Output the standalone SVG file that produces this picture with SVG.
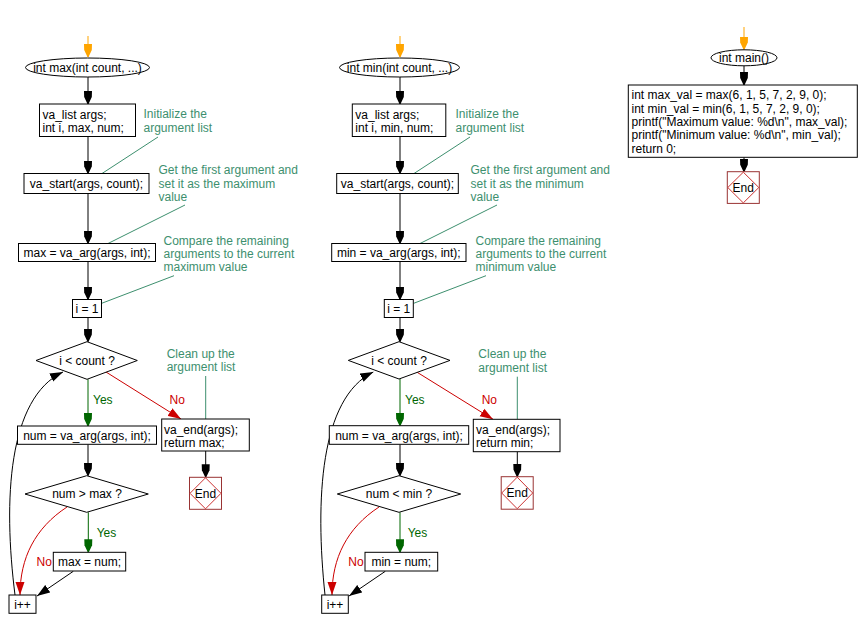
<svg xmlns="http://www.w3.org/2000/svg" width="860" height="628" viewBox="0 0 860 628">
<style>
text{font-family:"Liberation Sans",Arial,sans-serif;font-size:12px;fill:#000}
.c{text-anchor:middle}
.cm{fill:#3d8f6e}
.yes{fill:#006600}
.no{fill:#cc0000}
.box{fill:#fff;stroke:#000;stroke-width:1}
.end{fill:#fff;stroke:#993333;stroke-width:1}
.endd{fill:none;stroke:#cc3333;stroke-width:1}
.ln{fill:none;stroke:#000;stroke-width:1}
.lg{fill:none;stroke:#006600;stroke-width:1}
.lr{fill:none;stroke:#cc0000;stroke-width:1}
.lo{fill:none;stroke:#ffa500;stroke-width:1}
.lc{fill:none;stroke:#3d8f6e;stroke-width:1}
</style>
<defs>
<marker id="ab" markerUnits="userSpaceOnUse" markerWidth="14" markerHeight="10" viewBox="0 -5 14 10" refX="13" refY="0" orient="auto"><path d="M0,-4 L6,-3.8 L13,-0.5 L13,0.5 L6,3.8 L0,4 Z" fill="#000"/></marker>
<marker id="ag" markerUnits="userSpaceOnUse" markerWidth="14" markerHeight="10" viewBox="0 -5 14 10" refX="13" refY="0" orient="auto"><path d="M0,-4 L6,-3.8 L13,-0.5 L13,0.5 L6,3.8 L0,4 Z" fill="#006600"/></marker>
<marker id="ao" markerUnits="userSpaceOnUse" markerWidth="14" markerHeight="10" viewBox="0 -5 14 10" refX="13" refY="0" orient="auto"><path d="M0,-4 L6,-3.8 L13,-0.5 L13,0.5 L6,3.8 L0,4 Z" fill="#ffa500"/></marker>
<marker id="tb" markerUnits="userSpaceOnUse" markerWidth="14" markerHeight="10" viewBox="0 -5 14 10" refX="13" refY="0" orient="auto"><path d="M0,-4.5 L13,0 L0,4.5 Z" fill="#000"/></marker>
<marker id="tr" markerUnits="userSpaceOnUse" markerWidth="14" markerHeight="10" viewBox="0 -5 14 10" refX="13" refY="0" orient="auto"><path d="M0,-4.5 L13,0 L0,4.5 Z" fill="#cc0000"/></marker>
</defs>
<rect width="860" height="628" fill="#fff"/>

<g id="connectors">
<!-- max column -->
<path class="lo" d="M88,36 V57" marker-end="url(#ao)"/>
<path class="ln" d="M88,77 V104" marker-end="url(#ab)"/>
<path class="ln" d="M88,136.5 V173.5" marker-end="url(#ab)"/>
<path class="ln" d="M88,193.5 V243.5" marker-end="url(#ab)"/>
<path class="ln" d="M88,261.5 V299.5" marker-end="url(#ab)"/>
<path class="ln" d="M88,317.5 V341.7" marker-end="url(#ab)"/>
<path class="lg" d="M88,379.3 V426" marker-end="url(#ag)"/>
<path class="lr" d="M106,372 L181,419" marker-end="url(#tr)"/>
<path class="ln" d="M205.7,451 V477.3" marker-end="url(#ab)"/>
<path class="ln" d="M88,444.3 V475.7" marker-end="url(#ab)"/>
<path class="lg" d="M88.3,512.3 V552.3" marker-end="url(#ag)"/>
<path class="lr" d="M67,507 C35,528 20,558 20,595" marker-end="url(#tr)"/>
<path class="ln" d="M73.3,571.3 L37,596" marker-end="url(#tb)"/>
<path class="ln" d="M15,595 C3,500 8,398 63,372" marker-end="url(#tb)"/>
<path class="lc" d="M158,137 L102,173.5"/>
<path class="lc" d="M185,205 L108,243.5"/>
<path class="lc" d="M174,275.7 L101.7,303.3"/>
<path class="lc" d="M205.7,376 V419"/>
<!-- min column -->
<path class="lo" d="M400,36 V57" marker-end="url(#ao)"/>
<path class="ln" d="M400,77 V104" marker-end="url(#ab)"/>
<path class="ln" d="M400,136.5 V173.5" marker-end="url(#ab)"/>
<path class="ln" d="M400,193.5 V243.5" marker-end="url(#ab)"/>
<path class="ln" d="M400,261.5 V299.5" marker-end="url(#ab)"/>
<path class="ln" d="M400,317.5 V341.7" marker-end="url(#ab)"/>
<path class="lg" d="M400,379 V425.7" marker-end="url(#ag)"/>
<path class="lr" d="M416.7,372 L493,419.3" marker-end="url(#tr)"/>
<path class="ln" d="M517.3,451.7 V476.7" marker-end="url(#ab)"/>
<path class="ln" d="M400,444.3 V475.7" marker-end="url(#ab)"/>
<path class="lg" d="M400,512.3 V552.3" marker-end="url(#ag)"/>
<path class="lr" d="M379,507 C347,528 332,558 332,595" marker-end="url(#tr)"/>
<path class="ln" d="M385.3,571.3 L349,596" marker-end="url(#tb)"/>
<path class="ln" d="M325,595 C315,500 320,398 373.3,372" marker-end="url(#tb)"/>
<path class="lc" d="M470,137 L414,173.5"/>
<path class="lc" d="M497,205 L420,243.5"/>
<path class="lc" d="M486,275.7 L413.7,303.3"/>
<path class="lc" d="M517.3,376.7 V419.3"/>
<!-- main column -->
<path class="lo" d="M744,27 V49.5" marker-end="url(#ao)"/>
<path class="ln" d="M744,65.7 V85" marker-end="url(#ab)"/>
<path class="ln" d="M744,157.3 V171.7" marker-end="url(#ab)"/>
</g>

<!-- ===== max function ===== -->
<g id="max-start"><ellipse class="box" cx="87.5" cy="67.5" rx="62" ry="9.5"/><text class="c" x="87.5" y="71.8">int max(int count, ...)</text></g>
<g id="max-decl"><rect class="box" x="39.5" y="104" width="96" height="32.5"/><text x="42.5" y="119">va_list args;</text><text x="42.5" y="132.3">int i, max, num;</text></g>
<g id="max-c1"><text class="cm" x="143.5" y="118">Initialize the</text><text class="cm" x="143.5" y="131.5">argument list</text></g>
<g id="max-vastart"><rect class="box" x="24" y="173.5" width="125" height="20"/><text class="c" x="86.5" y="188">va_start(args, count);</text></g>
<g id="max-c2"><text class="cm" x="158.5" y="173.5">Get the first argument and</text><text class="cm" x="158.5" y="188">set it as the maximum</text><text class="cm" x="158.5" y="201">value</text></g>
<g id="max-first"><rect class="box" x="18.5" y="243.5" width="137" height="18"/><text class="c" x="87" y="257">max = va_arg(args, int);</text></g>
<g id="max-c3"><text class="cm" x="163.5" y="244.5">Compare the remaining</text><text class="cm" x="163.5" y="257.5">arguments to the current</text><text class="cm" x="163.5" y="270.5">maximum value</text></g>
<g id="max-init"><rect class="box" x="72.5" y="299.5" width="29" height="18"/><text class="c" x="87" y="313">i = 1</text></g>
<g id="max-cond"><polygon class="box" points="87,341.7 137.3,360.5 87,379.3 36,360.5"/><text class="c" x="87" y="364.8">i &lt; count ?</text></g>
<g id="max-yes1"><text class="yes" x="93" y="404">Yes</text></g>
<g id="max-no1"><text class="no" x="169.5" y="404">No</text></g>
<g id="max-next"><rect class="box" x="17.5" y="426" width="139" height="18.3"/><text class="c" x="87" y="440">num = va_arg(args, int);</text></g>
<g id="max-ret"><rect class="box" x="161.7" y="419" width="87.6" height="32"/><text x="164" y="434">va_end(args);</text><text x="164" y="446.8">return max;</text></g>
<g id="max-c4"><text class="cm" x="166.7" y="357.5">Clean up the</text><text class="cm" x="166.7" y="371.3">argument list</text></g>
<g id="max-end"><rect class="end" x="189.5" y="477.3" width="32" height="32"/><polygon class="endd" points="205.5,477.8 221,493.3 205.5,508.8 190,493.3"/><text class="c" x="205.5" y="497.5">End</text></g>
<g id="max-cmp"><polygon class="box" points="86.7,475.7 148.3,494 86.7,512.3 25,494"/><text class="c" x="87" y="498.3">num &gt; max ?</text></g>
<g id="max-yes2"><text class="yes" x="96.7" y="536.5">Yes</text></g>
<g id="max-no2"><text class="no" x="36.5" y="566">No</text></g>
<g id="max-set"><rect class="box" x="53.3" y="552.3" width="72.4" height="18.7"/><text class="c" x="89.5" y="566">max = num;</text></g>
<g id="max-inc"><rect class="box" x="9" y="595" width="27" height="18.3"/><text class="c" x="22.5" y="608.5">i++</text></g>

<!-- ===== min function ===== -->
<g id="min-start"><ellipse class="box" cx="399.5" cy="67.5" rx="60" ry="9.5"/><text class="c" x="399.5" y="71.8">int min(int count, ...)</text></g>
<g id="min-decl"><rect class="box" x="352.3" y="104" width="93.5" height="32.5"/><text x="355.3" y="119">va_list args;</text><text x="355.3" y="132.3">int i, min, num;</text></g>
<g id="min-c1"><text class="cm" x="455.5" y="118">Initialize the</text><text class="cm" x="455.5" y="131.5">argument list</text></g>
<g id="min-vastart"><rect class="box" x="336.7" y="173.5" width="121.6" height="20"/><text class="c" x="397.5" y="188">va_start(args, count);</text></g>
<g id="min-c2"><text class="cm" x="470.5" y="173.5">Get the first argument and</text><text class="cm" x="470.5" y="188">set it as the minimum</text><text class="cm" x="470.5" y="201">value</text></g>
<g id="min-first"><rect class="box" x="331.7" y="243.5" width="134.3" height="18"/><text class="c" x="398.8" y="257">min = va_arg(args, int);</text></g>
<g id="min-c3"><text class="cm" x="475.5" y="244.5">Compare the remaining</text><text class="cm" x="475.5" y="257.5">arguments to the current</text><text class="cm" x="475.5" y="270.5">minimum value</text></g>
<g id="min-init"><rect class="box" x="384.3" y="299.5" width="29" height="18"/><text class="c" x="398.8" y="313">i = 1</text></g>
<g id="min-cond"><polygon class="box" points="399,341.7 450,360.4 399,379 348.3,360.4"/><text class="c" x="399" y="364.8">i &lt; count ?</text></g>
<g id="min-yes1"><text class="yes" x="405" y="404">Yes</text></g>
<g id="min-no1"><text class="no" x="481.7" y="404">No</text></g>
<g id="min-next"><rect class="box" x="329.3" y="425.7" width="139.4" height="18.6"/><text class="c" x="399" y="440">num = va_arg(args, int);</text></g>
<g id="min-ret"><rect class="box" x="473.3" y="419.3" width="86.7" height="32.4"/><text x="476" y="434.3">va_end(args);</text><text x="476" y="447">return min;</text></g>
<g id="min-c4"><text class="cm" x="478.3" y="358">Clean up the</text><text class="cm" x="478.3" y="371.8">argument list</text></g>
<g id="min-end"><rect class="end" x="501.2" y="476.7" width="32" height="32.5"/><polygon class="endd" points="517.2,477.2 532.7,493 517.2,508.7 501.7,493"/><text class="c" x="517.2" y="497.2">End</text></g>
<g id="min-cmp"><polygon class="box" points="399,475.7 460.7,494 399,512.3 337.3,494"/><text class="c" x="399" y="498.3">num &lt; min ?</text></g>
<g id="min-yes2"><text class="yes" x="407.7" y="536.5">Yes</text></g>
<g id="min-no2"><text class="no" x="348.3" y="566">No</text></g>
<g id="min-set"><rect class="box" x="365" y="552.3" width="72.7" height="18.7"/><text class="c" x="401.3" y="566">min = num;</text></g>
<g id="min-inc"><rect class="box" x="321.7" y="595" width="26.6" height="18.3"/><text class="c" x="335" y="608.5">i++</text></g>

<!-- ===== main ===== -->
<g id="main-start"><ellipse class="box" cx="744" cy="57.8" rx="33" ry="8"/><text class="c" x="744" y="62">int main()</text></g>
<g id="main-body"><rect class="box" x="628.3" y="85" width="229" height="72.3"/><text x="631.5" y="99.3">int max_val = max(6, 1, 5, 7, 2, 9, 0);</text><text x="631.5" y="112.6">int min_val = min(6, 1, 5, 7, 2, 9, 0);</text><text x="631.5" y="126">printf("Maximum value: %d\n", max_val);</text><text x="631.5" y="139.3">printf("Minimum value: %d\n", min_val);</text><text x="631.5" y="152.6">return 0;</text></g>
<g id="main-end"><rect class="end" x="727.3" y="171.7" width="32" height="31.7"/><polygon class="endd" points="743.3,172.2 758.8,187.5 743.3,202.9 727.8,187.5"/><text class="c" x="743.3" y="191.7">End</text></g>
</svg>
